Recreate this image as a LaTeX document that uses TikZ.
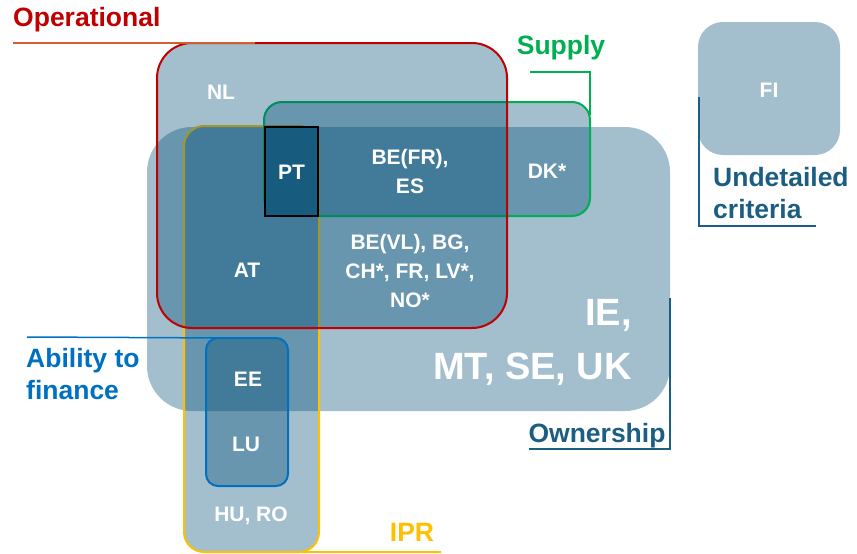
\documentclass[tikz,border=0pt]{standalone}
\usepackage{fontspec}
\setmainfont{Liberation Sans}
\definecolor{layer}{RGB}{0,77,118}
\definecolor{ptfill}{RGB}{23,92,126}
\definecolor{opred}{RGB}{192,0,0}
\definecolor{opline}{RGB}{208,96,48}
\definecolor{supgreen}{RGB}{0,176,80}
\definecolor{iprgold}{RGB}{255,192,0}
\definecolor{abblue}{RGB}{0,112,192}
\definecolor{owncol}{RGB}{27,94,130}
\tikzset{
  setbox/.style={fill=layer,fill opacity=0.36,text opacity=1,inner sep=0pt,outer sep=0pt,line width=2pt},
  intext/.style={text=white,font=\bfseries\fontsize{21}{29}\selectfont,align=center,inner sep=0pt},
  lbl/.style={font=\bfseries\fontsize{26.5}{32}\selectfont,inner sep=0pt},
  leader/.style={line width=1.5pt}
}
\begin{document}
\begin{tikzpicture}[x=1pt,y=-1pt]
\useasboundingbox (0,0) rectangle (857,554);
% sets
\node[setbox,rounded corners=45pt,minimum width=523pt,minimum height=284pt] (own) at (408.5,269) {};
\node[setbox,draw=iprgold,rounded corners=20pt,minimum width=135pt,minimum height=426pt] (ipr) at (251.5,339) {};
\node[setbox,draw=supgreen,rounded corners=18pt,minimum width=326pt,minimum height=114pt] (sup) at (427,159) {};
\node[setbox,draw=opred,rounded corners=35pt,minimum width=350pt,minimum height=285pt] (op) at (332,185.5) {};
\node[setbox,draw=abblue,rounded corners=12pt,minimum width=82pt,minimum height=148pt] (ab) at (247,412) {};
\node[fill=ptfill,draw=black,line width=2pt,inner sep=0pt,minimum width=53pt,minimum height=89pt] (pt) at (291.5,171.5) {};
\node[setbox,rounded corners=25pt,minimum width=142pt,minimum height=133pt] (fi) at (769,88.5) {};
% texts inside
\node[intext] (tNL) at (221,92) {NL};
\node[intext] (tPT) at (291.5,172) {PT};
\node[intext] (tBEFR) at (410,171) {BE(FR),\\ES};
\node[intext] (tDK) at (547,171) {DK*};
\node[intext] (tAT) at (247,270) {AT};
\node[intext] (tBEVL) at (410,271) {BE(VL), BG,\\CH*, FR, LV*,\\NO*};
\node[intext,font=\bfseries\fontsize{38}{54}\selectfont,align=right,anchor=east] (tIE) at (632,342) {IE,\\MT, SE, UK};
\node[intext] (tEE) at (248,379) {EE};
\node[intext] (tLU) at (246,444) {LU};
\node[intext] (tHU) at (251,516) {HU, RO};
\node[intext] (tFI) at (769,90) {FI};
% labels
\node[lbl,text=opred,anchor=west] (lOp) at (13,20) {Operational};
\node[lbl,text=supgreen] (lSup) at (561,48) {Supply};
\node[lbl,text=owncol,anchor=west,align=left] (lUnd) at (713,193) {Undetailed\\criteria};
\node[lbl,text=owncol] (lOwn) at (597,436) {Ownership};
\node[lbl,text=iprgold] (lIpr) at (412,532) {IPR};
\node[lbl,text=abblue,anchor=west,align=left] (lAb) at (26,374) {Ability to\\finance};
% leaders
\coordinate (opL) at (13,43);
\coordinate (opE) at (255,43);
\draw[leader,opline] (opL) -- (opE);
\coordinate (supL) at (530,72);
\draw[leader,supgreen] (supL) -| ([yshift=-13pt]sup.north east);
\coordinate (ownL) at (529,449);
\draw[leader,owncol] (ownL) -| ([yshift=-171pt]own.north east);
\coordinate (undL) at (816,226);
\draw[leader,owncol] (undL) -| ([yshift=-75pt,xshift=1pt]fi.north west);
\coordinate (abL) at (27,337);
\draw[leader,abblue] (abL) -- ([xshift=26pt]ab.north west);
\coordinate (iprL) at (441,552);
\draw[leader,iprgold] (iprL) -- (ipr.south);
\end{tikzpicture}
\end{document}
